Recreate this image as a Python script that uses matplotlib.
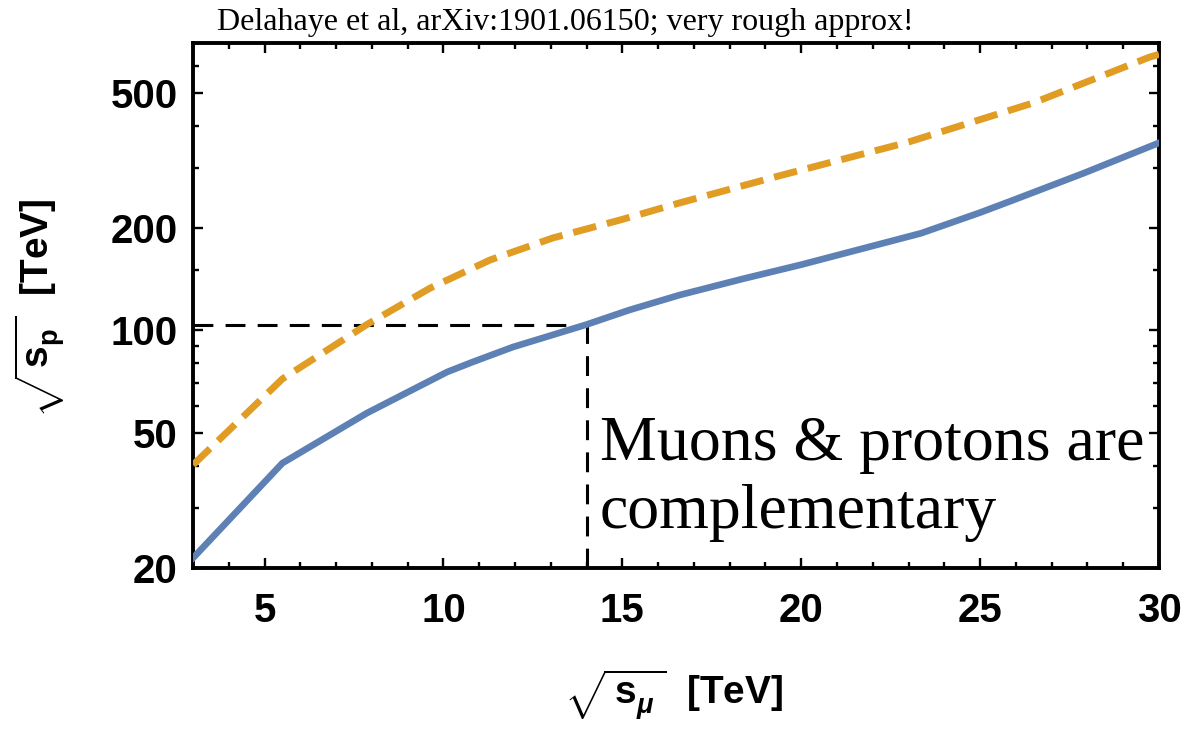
import matplotlib

matplotlib.use("Agg")

import matplotlib.pyplot as plt
from matplotlib.ticker import FixedLocator, NullFormatter

plt.rcParams["mathtext.fontset"] = "custom"
plt.rcParams["mathtext.rm"] = "Liberation Sans:bold"
plt.rcParams["mathtext.bf"] = "Liberation Sans:bold"
plt.rcParams["mathtext.it"] = "Liberation Sans:bold:italic"

# values (sqrt(s_mu) in TeV vs sqrt(s_p) in TeV)
muon_energy_solid = [3.0, 5.5, 7.86, 10.1, 10.83, 11.94, 14.0, 15.2, 16.6,
                     18.4, 20.0, 23.35, 25.0, 25.9, 27.9, 30.0]
proton_energy_solid = [21.4, 40.7, 57.1, 75.4, 80.8, 89.3, 104.0, 114.8, 127.0,
                       142.0, 156.0, 193.0, 222.0, 241.0, 290.0, 356.0]

muon_energy_dashed = [3.0, 5.5, 7.86, 8.23, 9.62, 11.3, 13.06, 14.93, 16.6,
                      19.4, 23.0, 26.5, 29.75, 30.0]
proton_energy_dashed = [40.2, 72.0, 104.0, 109.5, 133.0, 161.0, 187.0, 211.0,
                        237.0, 285.0, 358.0, 467.0, 637.0, 648.0]

crossing_muon = 14.0
crossing_proton = 104.0

x_major_ticks = [5, 10, 15, 20, 25, 30]
x_minor_ticks = list(range(3, 31))
y_major_ticks = [20, 50, 100, 200, 500]
y_minor_ticks = [30, 40, 60, 70, 80, 90, 150, 300, 400, 600]

BLUE = "#5E81B5"
ORANGE = "#E19C24"

figure = plt.figure(figsize=(11.86, 7.29), dpi=100)
axis = figure.add_axes([193 / 1186, 161 / 729, 966 / 1186, 525 / 729])

axis.set_yscale("log")
axis.set_xlim(3, 30)
axis.set_ylim(20, 700)

axis.plot(
    [3, crossing_muon],
    [crossing_proton, crossing_proton],
    color="black",
    linewidth=2.2,
    dashes=(6.5, 4.0),
    dash_capstyle="butt",
    zorder=2,
)
axis.plot(
    [crossing_muon, crossing_muon],
    [20, crossing_proton],
    color="black",
    linewidth=2.2,
    dashes=(6.5, 4.0),
    dash_capstyle="butt",
    zorder=2,
)

axis.plot(
    muon_energy_solid,
    proton_energy_solid,
    color=BLUE,
    linewidth=4.8,
    solid_joinstyle="round",
    zorder=3,
)
axis.plot(
    muon_energy_dashed,
    proton_energy_dashed,
    color=ORANGE,
    linewidth=5.0,
    dashes=(3.4, 1.6),
    dash_capstyle="butt",
    zorder=3,
)

axis.xaxis.set_major_locator(FixedLocator(x_major_ticks))
axis.xaxis.set_minor_locator(FixedLocator(x_minor_ticks))
axis.yaxis.set_major_locator(FixedLocator(y_major_ticks))
axis.yaxis.set_minor_locator(FixedLocator(y_minor_ticks))
axis.set_xticklabels([str(t) for t in x_major_ticks])
axis.set_yticklabels([str(t) for t in y_major_ticks])
axis.yaxis.set_minor_formatter(NullFormatter())

for spine in axis.spines.values():
    spine.set_linewidth(2.8)

axis.tick_params(
    which="both", direction="in", top=True, right=True, width=1.7
)
axis.tick_params(which="major", length=7)
axis.tick_params(which="minor", length=4)
axis.tick_params(axis="x", which="major", pad=17)
axis.tick_params(axis="y", which="major", pad=11)

for label in axis.get_xticklabels() + axis.get_yticklabels():
    label.set_fontfamily("Liberation Sans")
    label.set_fontweight("bold")
    label.set_fontsize(29)

figure.text(
    674 / 1186,
    1 - 695 / 729,
    r"$\sqrt{\,\mathrm{s}_{\mu}^{\ }\,}$  [TeV]",
    family="Liberation Sans",
    fontweight="bold",
    fontsize=28,
    ha="center",
    va="center",
)
figure.text(
    40 / 1186,
    1 - 308 / 729,
    r"$\sqrt{\,\mathrm{s}_{\mathrm{p}}^{\ }\,}$  [TeV]",
    family="Liberation Sans",
    fontweight="bold",
    fontsize=28,
    rotation=90,
    ha="center",
    va="center",
)

figure.text(
    217 / 1186,
    1 - 30 / 729,
    "Delahaye et al, arXiv:1901.06150; very rough approx!",
    family="Liberation Serif",
    fontsize=23,
    va="baseline",
)
figure.text(
    600 / 1186,
    1 - 460 / 729,
    "Muons & protons are",
    family="Liberation Serif",
    fontsize=46,
    va="baseline",
)
figure.text(
    600 / 1186,
    1 - 528 / 729,
    "complementary",
    family="Liberation Serif",
    fontsize=46,
    va="baseline",
)

figure.savefig("out.png", dpi=100)
plt.close(figure)
